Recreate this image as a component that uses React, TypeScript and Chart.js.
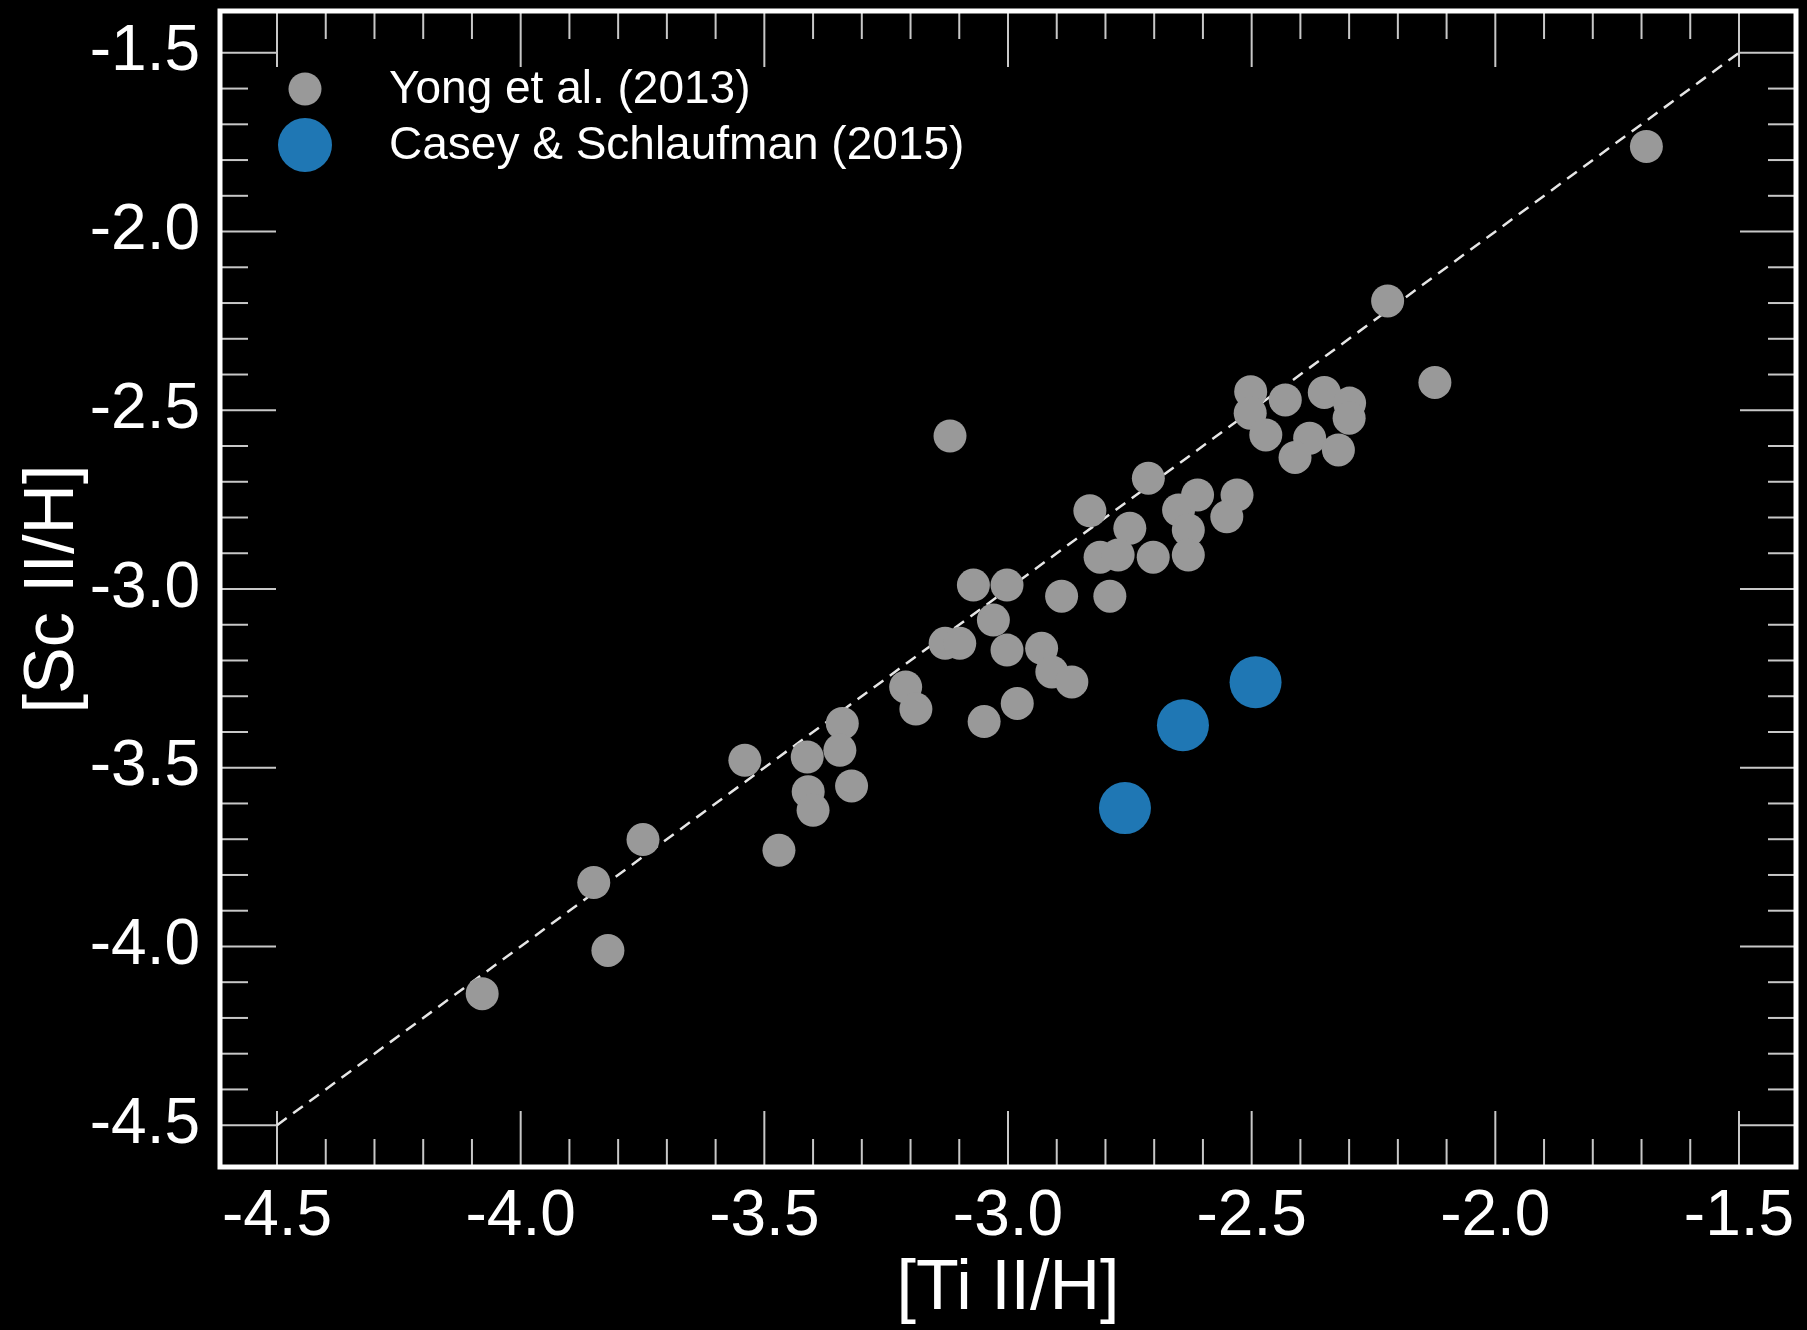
import React, { useEffect, useRef } from "react";
import { Chart, registerables } from "chart.js";

Chart.register(...registerables);

// Yong et al. (2013): [Ti II/H] and [Sc II/H]
const yongTi = [
  -1.690, -2.221, -2.124, -3.119, -2.502, -2.503, -2.471, -2.431, -2.351, -2.299,
  -2.300, -2.381, -2.411, -2.322, -2.712, -2.832, -2.750, -2.811, -2.774, -2.702,
  -2.650, -2.611, -2.630, -2.630, -2.530, -2.551, -2.890, -2.791, -3.071, -3.002,
  -3.030, -3.129, -3.099, -3.002, -2.931, -2.910, -2.869, -2.981, -3.049, -3.210,
  -3.189, -3.540, -3.412, -3.340, -3.345, -3.321, -3.410, -3.400, -3.470, -4.079,
  -3.821, -3.850, -3.749,
];
const yongSc = [
  -1.762, -2.194, -2.422, -2.572, -2.448, -2.508, -2.569, -2.471, -2.450, -2.480,
  -2.522, -2.578, -2.632, -2.611, -2.690, -2.781, -2.830, -2.911, -2.905, -2.911,
  -2.779, -2.737, -2.835, -2.905, -2.737, -2.798, -3.020, -3.020, -2.989, -2.989,
  -3.087, -3.152, -3.152, -3.171, -3.166, -3.232, -3.260, -3.320, -3.371, -3.274,
  -3.336, -3.479, -3.470, -3.376, -3.451, -3.551, -3.567, -3.619, -3.731, -4.132,
  -4.011, -3.821, -3.701,
];

// Casey & Schlaufman (2015)
const caseyTi = [-2.492, -2.641, -2.760];
const caseySc = [-3.261, -3.381, -3.613];

// 1:1 reference line
const lineX = [-4.5, -1.5];
const lineY = [-4.5, -1.5];

const majorTicks = [-4.5, -4.0, -3.5, -3.0, -2.5, -2.0, -1.5];
const axisMin = -4.617;
const axisMax = -1.383;

const yongLabel = "Yong et al. (2013)";
const caseyLabel = "Casey & Schlaufman (2015)";
const xTitle = "[Ti II/H]";
const yTitle = "[Sc II/H]";

const FONT = '"Liberation Sans", Arial, Helvetica, sans-serif';
const GRAY = "#999999";
const BLUE = "#1f77b4";

const framePlugin = {
  id: "frameTicks",
  beforeDatasetsDraw(chart: any) {
    const { ctx, chartArea, scales } = chart;
    const { left, right, top, bottom } = chartArea;
    const xs = scales.x;
    const ys = scales.y;
    ctx.save();
    ctx.strokeStyle = "#c8c8c8";
    ctx.lineWidth = 2;
    const line = (x1: number, y1: number, x2: number, y2: number) => {
      ctx.beginPath();
      ctx.moveTo(x1, y1);
      ctx.lineTo(x2, y2);
      ctx.stroke();
    };
    for (let i = 0; i <= 30; i++) {
      const v = -4.5 + i * 0.1;
      const L = i % 5 === 0 ? 56 : 28;
      const px = xs.getPixelForValue(v);
      line(px, bottom, px, bottom - L);
      line(px, top, px, top + L);
      const py = ys.getPixelForValue(v);
      line(left, py, left + L, py);
      line(right, py, right - L, py);
    }
    ctx.restore();
  },
  afterDatasetsDraw(chart: any) {
    const { ctx, chartArea } = chart;
    const { left, right, top, bottom } = chartArea;
    ctx.save();
    // frame
    ctx.strokeStyle = "#ffffff";
    ctx.lineWidth = 5;
    ctx.strokeRect(left, top, right - left, bottom - top);
    // legend
    const items = [
      { label: chart.data.datasets[1].label, color: GRAY, r: 16.5, dy: 78 },
      { label: chart.data.datasets[0].label, color: BLUE, r: 27, dy: 134 },
    ];
    ctx.font = "46px " + FONT;
    ctx.textBaseline = "middle";
    ctx.textAlign = "left";
    for (const it of items) {
      ctx.beginPath();
      ctx.fillStyle = it.color;
      ctx.arc(left + 85, top + it.dy, it.r, 0, Math.PI * 2);
      ctx.fill();
      ctx.fillStyle = "#ffffff";
      ctx.fillText(it.label, left + 169, top + it.dy + 1);
    }
    ctx.restore();
  },
};

export default function App() {
  const canvasRef = useRef<HTMLCanvasElement | null>(null);

  useEffect(() => {
    document.body.style.margin = "0";
    document.body.style.background = "#000";
    const canvas = canvasRef.current;
    if (!canvas) return;

    const yongPts = yongTi.map((x, i) => ({ x, y: yongSc[i] }));
    const caseyPts = caseyTi.map((x, i) => ({ x, y: caseySc[i] }));
    const linePts = lineX.map((x, i) => ({ x, y: lineY[i] }));

    const tickFont = { family: FONT, size: 64 };
    const titleFont = { family: FONT, size: 70, lineHeight: 1 };

    const chart = new Chart(canvas, {
      type: "scatter",
      data: {
        datasets: [
          {
            label: caseyLabel,
            data: caseyPts,
            backgroundColor: BLUE,
            borderWidth: 0,
            pointRadius: 26,
            order: 1,
          },
          {
            label: yongLabel,
            data: yongPts,
            backgroundColor: GRAY,
            borderWidth: 0,
            pointRadius: 16.5,
            order: 2,
          },
          {
            type: "line",
            label: "1:1",
            data: linePts,
            borderColor: "#e6e6e6",
            borderWidth: 2.5,
            borderDash: [12, 8],
            pointRadius: 0,
            showLine: true,
            fill: false,
            order: 3,
          } as any,
        ],
      },
      options: {
        animation: false,
        responsive: true,
        maintainAspectRatio: false,
        events: [],
        layout: { autoPadding: false, padding: { top: 11, right: 11, left: 0, bottom: 0 } },
        plugins: {
          legend: { display: false },
          tooltip: { enabled: false },
        },
        scales: {
          x: {
            type: "linear",
            min: axisMin,
            max: axisMax,
            afterBuildTicks: (s: any) => {
              s.ticks = majorTicks.map((v) => ({ value: v }));
            },
            afterFit: (s: any) => {
              s.height = 163;
              s.paddingLeft = 0;
              s.paddingRight = 0;
              s.paddingTop = 0;
              s.paddingBottom = 0;
            },
            ticks: {
              color: "#ffffff",
              font: tickFont,
              padding: 12,
              maxRotation: 0,
              autoSkip: false,
              callback: (v: any) => Number(v).toFixed(1),
            },
            grid: { display: false, drawTicks: false },
            border: { display: false },
            title: {
              display: true,
              text: xTitle,
              color: "#ffffff",
              font: titleFont,
              padding: { top: 0, bottom: 5 },
            },
          },
          y: {
            type: "linear",
            min: axisMin,
            max: axisMax,
            afterBuildTicks: (s: any) => {
              s.ticks = majorTicks.map((v) => ({ value: v }));
            },
            afterFit: (s: any) => {
              s.width = 220;
              s.paddingLeft = 0;
              s.paddingRight = 0;
              s.paddingTop = 0;
              s.paddingBottom = 0;
            },
            ticks: {
              color: "#ffffff",
              font: tickFont,
              padding: 20,
              autoSkip: false,
              callback: (v: any) => Number(v).toFixed(1),
            },
            grid: { display: false, drawTicks: false },
            border: { display: false },
            title: {
              display: true,
              text: yTitle,
              color: "#ffffff",
              font: titleFont,
              padding: { top: 19, bottom: 0 },
            },
          },
        },
      },
      plugins: [framePlugin],
    });

    return () => chart.destroy();
  }, []);

  return (
    <div style={{ width: 1807, height: 1330, background: "#000", position: "relative" }}>
      <canvas ref={canvasRef} />
    </div>
  );
}
